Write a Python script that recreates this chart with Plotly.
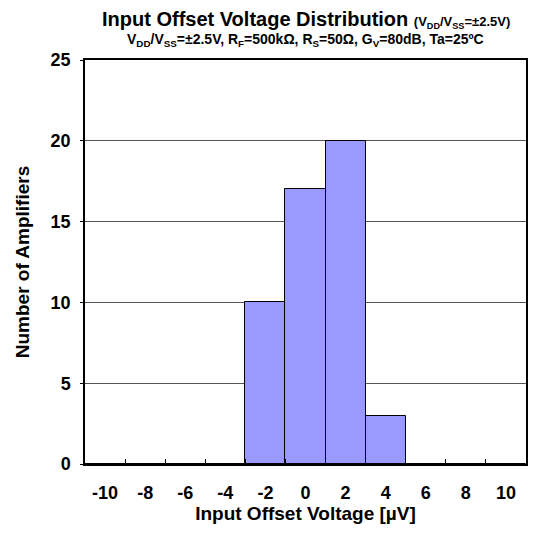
import plotly.graph_objects as go

categories = ["-10", "-8", "-6", "-4", "-2", "0", "2", "4", "6", "8", "10"]
counts = [0, 0, 0, 0, 10, 17, 20, 3, 0, 0, 0]
y_ticks = [0, 5, 10, 15, 20, 25]

FONT = "Liberation Sans, Arial, sans-serif"

fig = go.Figure()
fig.add_trace(go.Bar(
    x=categories, y=counts,
    marker=dict(color="#9999FF", line=dict(color="black", width=1)),
    width=1.0,
    showlegend=False,
    hoverinfo="x+y",
))

# page has an 8px body margin, so the figure is a bit smaller than the window
fig.update_layout(
    width=525, height=520,
    margin=dict(l=77, r=5, t=52, b=64),
    plot_bgcolor="white", paper_bgcolor="white",
    bargap=0,
    font=dict(family=FONT, color="black"),
    xaxis=dict(
        type="category", categoryorder="array", categoryarray=categories,
        tickson="boundaries", ticks="inside", ticklen=5, tickcolor="black",
        showline=True, linecolor="black", linewidth=1.5, mirror=True,
        showgrid=False,
        tickfont=dict(size=18, family=FONT, weight="bold"),
        ticklabelstandoff=12,
        title=dict(text="<b>Input Offset Voltage [µV]</b>", font=dict(size=19), standoff=2),
    ),
    yaxis=dict(
        range=[0, 25], tickvals=y_ticks,
        ticks="outside", ticklen=3, tickcolor="black",
        showline=True, linecolor="black", linewidth=1.5, mirror=True,
        showgrid=True, gridcolor="#555555", gridwidth=1,
        zeroline=False,
        tickfont=dict(size=18, family=FONT, weight="bold"),
        ticklabelstandoff=6,
        title=dict(text="<b>Number of Amplifiers</b>", font=dict(size=19), standoff=16),
    ),
)

fig.add_annotation(
    x=0.5, y=1, xref="paper", yref="paper", yanchor="bottom", yshift=27,
    showarrow=False,
    text="<b>Input Offset Voltage Distribution <span style='font-size:13px'>(V<sub>DD</sub>/V<sub>SS</sub>=±2.5V)</span></b>",
    font=dict(size=20),
)
fig.add_annotation(
    x=0.5, y=1, xref="paper", yref="paper", yanchor="bottom", yshift=9,
    showarrow=False,
    text="<b>V<sub>DD</sub>/V<sub>SS</sub>=±2.5V, R<sub>F</sub>=500kΩ, R<sub>S</sub>=50Ω, G<sub>V</sub>=80dB, Ta=25ºC</b>",
    font=dict(size=14),
)

fig.write_html("out.html")
